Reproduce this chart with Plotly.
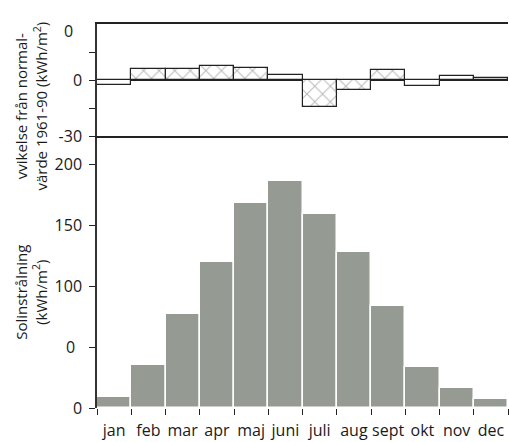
import plotly.graph_objects as go

# Months and monthly values
months = ["jan", "feb", "mar", "apr", "maj", "juni", "juli", "aug", "sept", "okt", "nov", "dec"]
radiation = [9, 35, 77, 120, 168, 186, 159, 128, 84, 34, 16, 7]          # kWh/m2
deviation = [-2.5, 5.7, 5.7, 7.3, 6.3, 2.5, -14.3, -5.4, 5.4, -3.2, 2.1, 1.2]  # kWh/m2 vs 1961-90
hatched = [False, True, True, True, True, False, True, True, True, False, False, False]

bot_ticks = [0, 50, 100, 150, 200]
bot_ticktext = ["0", "", "100", "150", "200"]
top_ticks = [-30, -15, 0, 15]
top_ticktext = ["-30", "", "0", ""]

FONT = "Open Sans"
split = 0.7083

fig = go.Figure()

# Lower panel: monthly solar radiation
fig.add_trace(go.Bar(
    x=months, y=radiation, xaxis="x", yaxis="y",
    marker=dict(color="#959b92", line=dict(color="white", width=1.5)),
    showlegend=False,
))

# Upper panel: deviation from the 1961-90 normal
fig.add_trace(go.Bar(
    x=months, y=deviation, xaxis="x2", yaxis="y2",
    marker=dict(
        color="white",
        line=dict(color="#222222", width=1.2),
        pattern=dict(shape=["x" if h else "" for h in hatched],
                     fgcolor="#6f6f6f", bgcolor="white", size=11, solidity=0.17),
    ),
    showlegend=False,
))

fig.update_layout(
    width=509, height=442,
    margin=dict(l=97, r=1, t=24, b=34),
    paper_bgcolor="white", plot_bgcolor="white",
    bargap=0,
    font=dict(family=FONT, size=16, color="#1a1a1a"),
    xaxis=dict(
        domain=[0, 1], anchor="y", type="category",
        tickson="boundaries", ticks="outside", ticklen=6, tickcolor="#222",
        tickangle=0, ticklabelstandoff=11,
        showline=False, showgrid=False, tickfont=dict(size=16),
    ),
    yaxis=dict(
        domain=[0, split], anchor="x", range=[0, 223],
        tickvals=bot_ticks, ticktext=bot_ticktext,
        ticks="outside", ticklen=6, tickcolor="#222", ticklabelstandoff=4,
        showline=True, linecolor="#333", linewidth=1.5,
        showgrid=False, zeroline=False, tickfont=dict(size=16),
    ),
    xaxis2=dict(
        domain=[0, 1], anchor="y2", matches="x", type="category",
        showticklabels=False, ticks="",
        showline=True, mirror=True, linecolor="#222", linewidth=1.5,
        showgrid=False,
    ),
    yaxis2=dict(
        domain=[split, 1], anchor="x2", range=[-30, 30],
        tickvals=top_ticks, ticktext=top_ticktext,
        ticks="outside", ticklen=6, tickcolor="#222", ticklabelstandoff=4,
        showline=True, linecolor="#333", linewidth=1.5,
        showgrid=False, zeroline=True, zerolinecolor="#222", zerolinewidth=2,
        tickfont=dict(size=16),
    ),
    annotations=[
        dict(text="0", xref="paper", yref="y", x=0, y=50, xanchor="right",
             yanchor="middle", xshift=-20, showarrow=False, font=dict(size=16)),
        dict(text="0", xref="paper", yref="y2", x=0, y=30, xanchor="right",
             yanchor="middle", xshift=-22, yshift=-7, showarrow=False, font=dict(size=16)),
        dict(text="vvikelse från normal-<br>värde 1961-90 (kWh/m<sup>2</sup>)",
             xref="paper", yref="paper", x=0, y=0.785, xanchor="center", yanchor="middle",
             xshift=-66, textangle=-90, showarrow=False, font=dict(size=15)),
        dict(text="Solinstrålning<br>(kWh/m<sup>2</sup>)",
             xref="paper", yref="paper", x=0, y=0.30, xanchor="center", yanchor="middle",
             xshift=-66, textangle=-90, showarrow=False, font=dict(size=15)),
    ],
)

fig.write_html("out.html")
